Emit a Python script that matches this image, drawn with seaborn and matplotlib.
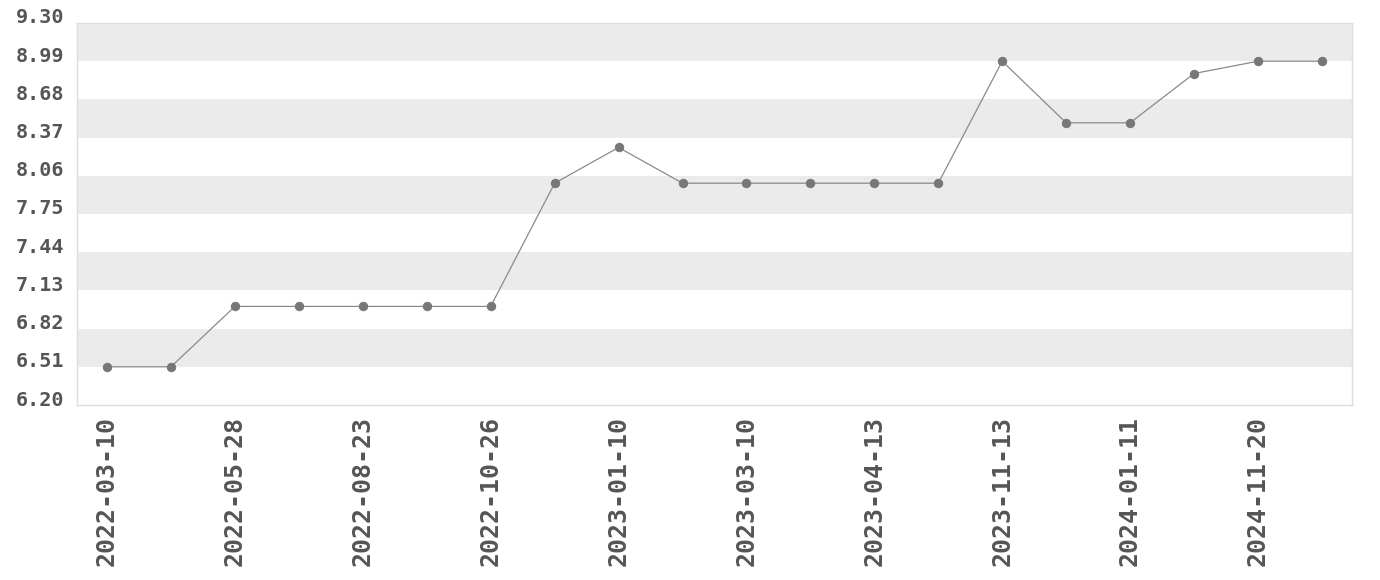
import numpy as np
import pandas as pd
import seaborn as sns
import matplotlib.pyplot as plt
from matplotlib.transforms import ScaledTranslation

# Data
dates = ['2022-03-10', '2022-04-15', '2022-05-28', '2022-07-12', '2022-08-23',
         '2022-09-20', '2022-10-26', '2022-12-01', '2023-01-10', '2023-02-08',
         '2023-03-10', '2023-03-25', '2023-04-13', '2023-08-16', '2023-11-13',
         '2023-12-14', '2024-01-11', '2024-06-05', '2024-11-20', '2025-01-15']
values = [6.51, 6.51, 7.00, 7.00, 7.00, 7.00, 7.00, 8.00, 8.29, 8.00,
          8.00, 8.00, 8.00, 8.00, 8.99, 8.49, 8.49, 8.89, 8.99, 8.99]
y_ticks = [6.20, 6.51, 6.82, 7.13, 7.44, 7.75, 8.06, 8.37, 8.68, 8.99, 9.30]

df = pd.DataFrame({'date': dates, 'value': values, 'pos': np.arange(len(dates))})

sns.set_style('white')
plt.rcParams['font.family'] = ['DejaVu Sans Mono', 'DejaVu Sans']

fig = plt.figure(figsize=(13.8, 5.8), dpi=100)
ax = fig.add_axes([77 / 1380, 1 - 405 / 580, (1352 - 77) / 1380, (405 - 23) / 580])

# alternating horizontal bands, gray on top
for i in range(len(y_ticks) - 1):
    if (len(y_ticks) - 2 - i) % 2 == 0:
        ax.axhspan(y_ticks[i], y_ticks[i + 1], color='#ebebeb', lw=0, zorder=0)

sns.lineplot(data=df, x='pos', y='value', ax=ax, color='#8a8a8a', linewidth=0.9,
             marker='o', markersize=6, markerfacecolor='#777777',
             markeredgecolor='#777777', zorder=3)

ax.set_xlim(-0.47, len(dates) - 1 + 0.47)
ax.set_ylim(y_ticks[0], y_ticks[-1])
ax.set_yticks(y_ticks, labels=[f'{t:.2f}' for t in y_ticks])
ax.set_xticks(df['pos'][::2], labels=df['date'][::2])
ax.set_xlabel('')
ax.set_ylabel('')
ax.tick_params(axis='both', length=0, colors='#555555')
ax.tick_params(axis='y', pad=9, labelsize=14.5)
ax.tick_params(axis='x', pad=8, labelsize=18, rotation=90)
for lab in ax.get_xticklabels() + ax.get_yticklabels():
    lab.set_fontweight('bold')
# y labels sit a little above their tick in the reference
shift = ScaledTranslation(0, 7 / 100, fig.dpi_scale_trans)
for lab in ax.get_yticklabels():
    lab.set_transform(lab.get_transform() + shift)
for sp in ax.spines.values():
    sp.set_color('#dddddd')
    sp.set_linewidth(1)

fig.savefig('out.png', dpi=100)
